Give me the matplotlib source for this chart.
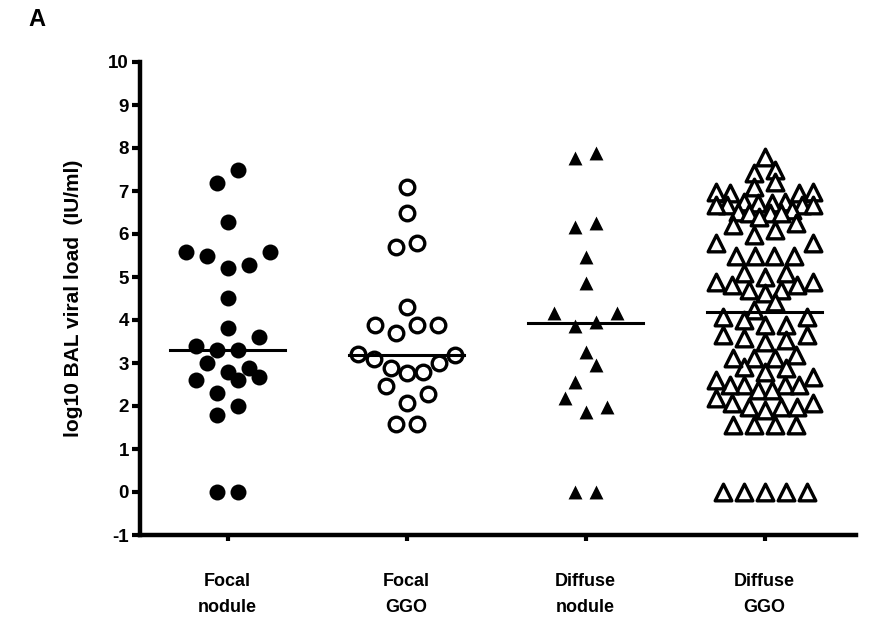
import numpy as np
import matplotlib
matplotlib.use("Agg")
import matplotlib.pyplot as plt

plt.rcParams['font.family'] = ['Liberation Sans', 'DejaVu Sans']
plt.rcParams['font.weight'] = 'bold'
plt.rcParams['axes.unicode_minus'] = False

groups = ["Focal\nnodule", "Focal\nGGO", "Diffuse\nnodule", "Diffuse\nGGO"]

# log10 BAL viral load per patient
focal_nodule = [7.49, 7.19, 6.28, 5.58, 5.49, 5.21, 5.28, 5.58, 4.51, 3.81, 3.60,
                3.30, 3.30, 3.40, 2.88, 3.00, 2.67, 2.60, 2.60, 2.79, 2.30, 2.00,
                1.79, 0.0, 0.0]
focal_ggo = [7.09, 6.49, 5.79, 5.70, 4.30, 3.88, 3.88, 3.70, 3.88, 3.19, 3.09,
             2.88, 2.79, 2.77, 3.00, 3.20, 2.47, 2.28, 2.07, 1.58, 1.58]
diffuse_nodule = [7.77, 7.88, 6.26, 6.17, 5.47, 4.87, 4.17, 4.17, 3.86, 3.95,
                  3.26, 2.95, 2.56, 2.19, 1.98, 1.86, 0.0, 0.0]
diffuse_ggo = [7.79, 7.49, 7.42, 7.21,
               7.10, 6.98, 6.95, 6.95, 6.98,
               6.74, 6.67, 6.74, 6.67, 6.72, 6.67, 6.72, 6.67,
               6.56, 6.49, 6.51, 6.49, 6.49,
               6.40, 6.26, 6.20, 6.09,
               5.98, 5.79, 5.79,
               5.49, 5.49, 5.49, 5.49,
               5.10, 5.10, 5.00,
               4.88, 4.81, 4.70, 4.63, 4.70, 4.81, 4.88,
               4.42, 4.23, 4.07, 4.00, 4.07, 3.88, 3.88,
               3.65, 3.53, 3.49, 3.58, 3.65,
               3.12, 3.12, 2.88, 2.79, 2.91, 3.12, 3.19,
               2.67, 2.49, 2.49, 2.37, 2.19, 2.37, 2.49, 2.49, 2.60,
               1.98, 1.98, 2.07, 2.07, 1.91, 1.98,
               1.56, 1.56, 1.56, 1.56,
               0.0, 0.0, 0.0, 0.0, 0.0]
medians = [3.30, 3.19, 3.93, 4.19]

series = [focal_nodule, focal_ggo, diffuse_nodule, diffuse_ggo]
markers = ['o', 'o', '^', '^']
filled = [True, False, True, False]
msize = [11.5, 10.5, 10.0, 12.0]
bin_h = [0.45, 0.45, 0.45, 0.30]   # row height in data units


def column_scatter(values, h, step=0.117, width=0.54):
    # group values into horizontal rows, lowest value of a row in the middle
    vals = np.asarray(values, dtype=float)
    order = np.argsort(vals, kind="stable")
    rows, cur = [], [order[0]]
    for i in order[1:]:
        if vals[i] - vals[cur[0]] <= h + 1e-9:
            cur.append(i)
        else:
            rows.append(cur)
            cur = [i]
    rows.append(cur)
    xs = np.zeros(len(vals))
    for row in rows:
        n = len(row)
        if n == 1:
            continue
        s = min(step, width / (n - 1))
        slots = [(j - (n - 1) / 2) * s for j in range(n)]
        slots.sort(key=lambda c: (round(abs(c), 6), c if n % 2 == 0 else -c))
        for idx, c in zip(row, slots):
            xs[idx] = c
    return xs


fig = plt.figure(figsize=(8.71, 6.29), dpi=100)
ax = fig.add_axes([140 / 871, 1 - 535 / 629, 716 / 871, 473 / 629])
ax.set_xlim(-0.49, 3.51)
ax.set_ylim(-1, 10)

for k, vals in enumerate(series):
    off = column_scatter(vals, bin_h[k])
    fc = 'black' if filled[k] else 'white'
    ax.scatter(k + off, vals, s=msize[k] ** 2, marker=markers[k], facecolor=fc,
               edgecolor='black', linewidths=0 if filled[k] else 2.4, zorder=3)
    ax.plot([k - 0.32, k + 0.32], [medians[k], medians[k]], color='black', lw=2.2, zorder=4)

for s in ['top', 'right']:
    ax.spines[s].set_visible(False)
for s in ['left', 'bottom']:
    ax.spines[s].set_linewidth(3.2)

ax.set_yticks(range(-1, 11))
ax.set_xticks(range(4))
ax.set_xticklabels(groups, fontsize=13, linespacing=1.7)
ax.tick_params(axis='y', length=6, width=3, labelsize=13.5, pad=2)
ax.tick_params(axis='x', length=4, width=3, pad=23)
ax.set_ylabel("log10 BAL viral load  (IU/ml)", fontsize=15, fontweight='bold', labelpad=18)

fig.text(28 / 871, 1 - 20 / 629, "A", fontsize=17, fontweight='bold', va='center')

fig.savefig("out.png", dpi=100)
